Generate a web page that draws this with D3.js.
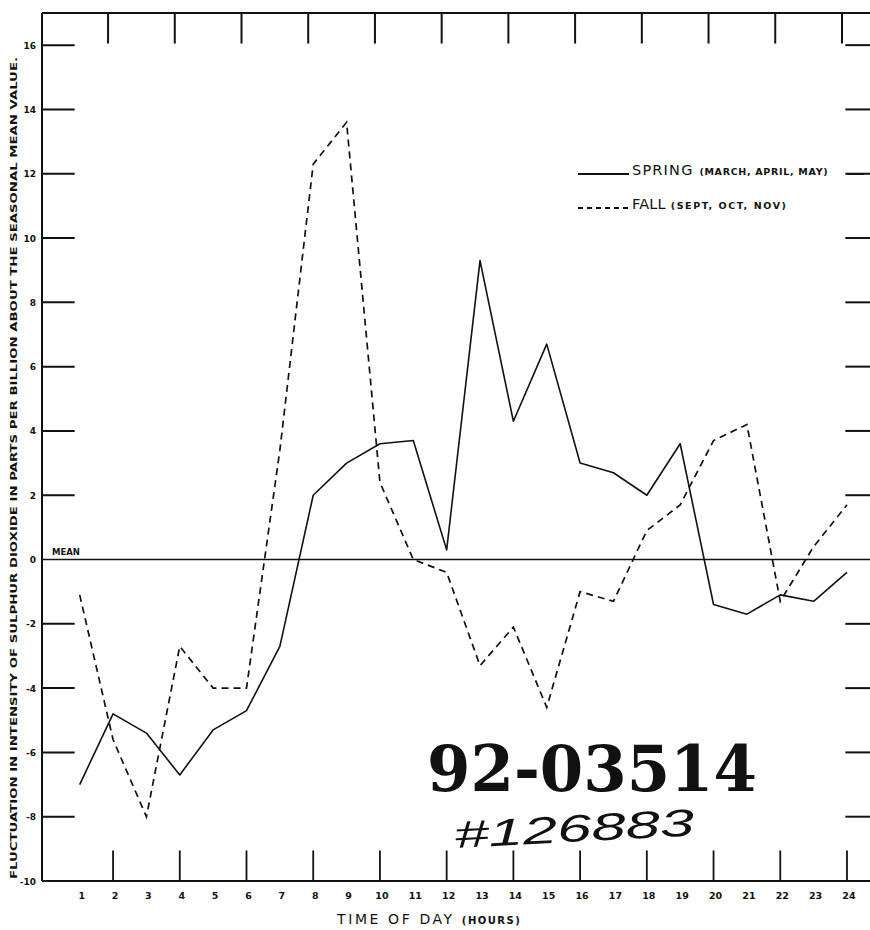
<!DOCTYPE html>
<meta charset="utf-8">
<style>
  body { margin: 0; background: #fff; }
  text { fill: #111; }
</style>
<body>
<script src="https://cdn.jsdelivr.net/npm/d3@7"></script>
<script>

// hours of the day and the two seasonal curves (ppb about the mean)
var hours = [1, 2, 3, 4, 5, 6, 7, 8, 9, 10, 11, 12,
             13, 14, 15, 16, 17, 18, 19, 20, 21, 22, 23, 24];
var spring = [-7.0, -4.8, -5.4, -6.7, -5.3, -4.7, -2.7, 2.0, 3.0, 3.6, 3.7, 0.3,
              9.3, 4.3, 6.7, 3.0, 2.7, 2.0, 3.6, -1.4, -1.7, -1.1, -1.3, -0.4];
var fall = [-1.1, -5.6, -8.0, -2.7, -4.0, -4.0, 3.4, 12.3, 13.6, 2.4, 0.0, -0.4,
            -3.3, -2.1, -4.6, -1.0, -1.3, 0.9, 1.7, 3.7, 4.2, -1.3, 0.4, 1.7];

var tickHours = [2, 4, 6, 8, 10, 12, 14, 16, 18, 20, 22, 24];
var yTicks = [16, 14, 12, 10, 8, 6, 4, 2, 0, -2, -4, -6, -8, -10];
var yMarks = [16, 14, 12, 10, 8, 6, 4, 2, -2, -4, -6, -8];

var width = 870, height = 930;
var sans = "'DejaVu Sans', sans-serif";

var x = d3.scaleLinear().domain([-0.13, 24.75]).range([42, 872]);
var y = d3.scaleLinear().domain([-10, 17]).range([881, 13]);

var svg = d3.select("body").append("svg")
            .attr("width", width)
            .attr("height", height)
            .style("font-family", sans);

//*************** frame
var frame = svg.append("g").attr("stroke", "#111").attr("fill", "none");

frame.append("line")
  .attr("x1", x(-0.13)).attr("x2", x(-0.13))
  .attr("y1", y(-10)).attr("y2", y(17))
  .attr("stroke-width", 2);
frame.append("line")
  .attr("x1", x(-0.13)).attr("x2", x(24.75))
  .attr("y1", y(17)).attr("y2", y(17))
  .attr("stroke-width", 2.2);
frame.append("line")
  .attr("x1", x(-0.13)).attr("x2", x(24.75))
  .attr("y1", y(-10)).attr("y2", y(-10))
  .attr("stroke-width", 2);

// mean line
frame.append("line")
  .attr("x1", x(-0.13)).attr("x2", x(24.75))
  .attr("y1", y(0)).attr("y2", y(0))
  .attr("stroke-width", 1.6);

//*************** ticks
frame.selectAll("line.left").data(yMarks).enter()
  .append("line").attr("class", "left")
  .attr("x1", x(-0.13)).attr("x2", x(0.85))
  .attr("y1", function(d){return y(d);}).attr("y2", function(d){return y(d);})
  .attr("stroke-width", 2);

frame.selectAll("line.right").data(yMarks).enter()
  .append("line").attr("class", "right")
  .attr("x1", x(23.95)).attr("x2", x(24.75))
  .attr("y1", function(d){return y(d);}).attr("y2", function(d){return y(d);})
  .attr("stroke-width", 2);

frame.selectAll("line.bottom").data(tickHours).enter()
  .append("line").attr("class", "bottom")
  .attr("x1", function(d){return x(d);}).attr("x2", function(d){return x(d);})
  .attr("y1", y(-10)).attr("y2", y(-9.05))
  .attr("stroke-width", 1.8);

frame.selectAll("line.top").data(tickHours).enter()
  .append("line").attr("class", "top")
  .attr("x1", function(d){return x(d) - 5;}).attr("x2", function(d){return x(d) - 5;})
  .attr("y1", y(17)).attr("y2", y(16.05))
  .attr("stroke-width", 2);

//*************** tick labels
svg.selectAll("text.ylab").data(yTicks).enter()
  .append("text").attr("class", "ylab")
  .attr("x", 36)
  .attr("y", function(d){return y(d) + 3.5;})
  .attr("text-anchor", "end")
  .attr("font-size", 9)
  .attr("font-weight", "bold")
  .text(function(d){return d;});

svg.selectAll("text.xlab").data(hours).enter()
  .append("text").attr("class", "xlab")
  .attr("x", function(d){return x(d) + 2;})
  .attr("y", 899)
  .attr("text-anchor", "middle")
  .attr("font-size", 9.5)
  .attr("font-weight", "bold")
  .text(function(d){return d;});

svg.append("text")
  .attr("x", 52).attr("y", y(0) - 5)
  .attr("font-size", 8.5)
  .attr("font-weight", "bold")
  .text("MEAN");

//*************** axis titles
svg.append("text")
  .attr("transform", "translate(17," + 468 + ") rotate(-90)")
  .attr("text-anchor", "middle")
  .attr("font-size", 8.5)
  .attr("font-weight", "bold")
  .attr("textLength", 822)
  .attr("lengthAdjust", "spacingAndGlyphs")
  .text("FLUCTUATION IN INTENSITY OF SULPHUR DIOXIDE IN PARTS PER BILLION ABOUT THE SEASONAL MEAN VALUE.");

var xt = svg.append("text")
  .attr("x", 337).attr("y", 924)
  .attr("font-size", 14)
  .attr("letter-spacing", 2.6);
xt.append("tspan").text("TIME OF DAY ");
xt.append("tspan").attr("font-size", 10).attr("font-weight", "bold")
  .attr("letter-spacing", 1.5).text("(HOURS)");

//*************** curves
var line = d3.line()
  .x(function(d, i){return x(hours[i]);})
  .y(function(d){return y(d);});

svg.append("path")
  .datum(spring)
  .attr("d", line)
  .attr("fill", "none")
  .attr("stroke", "#111")
  .attr("stroke-width", 1.6)
  .attr("stroke-linejoin", "round");

svg.append("path")
  .datum(fall)
  .attr("d", line)
  .attr("fill", "none")
  .attr("stroke", "#111")
  .attr("stroke-width", 1.7)
  .attr("stroke-dasharray", "7,5");

//*************** legend
var lg = svg.append("g");
lg.append("line")
  .attr("x1", 578).attr("x2", 629).attr("y1", 174).attr("y2", 174)
  .attr("stroke", "#111").attr("stroke-width", 1.8);
lg.append("line")
  .attr("x1", 847).attr("x2", 864).attr("y1", 174).attr("y2", 174)
  .attr("stroke", "#111").attr("stroke-width", 1.8);
var s1 = lg.append("text").attr("x", 632).attr("y", 175).attr("font-size", 14.5).attr("letter-spacing", 1.2);
s1.append("tspan").text("SPRING ");
s1.append("tspan").attr("font-size", 9.5).attr("font-weight", "bold").attr("letter-spacing", 0.7)
  .text("(MARCH, APRIL, MAY)");

lg.append("line")
  .attr("x1", 578).attr("x2", 630).attr("y1", 208).attr("y2", 208)
  .attr("stroke", "#111").attr("stroke-width", 1.8).attr("stroke-dasharray", "5,4");
var s2 = lg.append("text").attr("x", 632).attr("y", 209).attr("font-size", 14.5).attr("letter-spacing", 0.2);
s2.append("tspan").text("FALL ");
s2.append("tspan").attr("font-size", 9.5).attr("font-weight", "bold").attr("letter-spacing", 1.6)
  .text("(SEPT, OCT, NOV)");

//*************** stamp
svg.append("text")
  .attr("x", 427).attr("y", 791)
  .style("font-family", "'DejaVu Serif', serif")
  .attr("font-size", 64)
  .attr("font-weight", "bold")
  .attr("textLength", 330)
  .attr("lengthAdjust", "spacingAndGlyphs")
  .text("92-03514");

svg.append("text")
  .attr("x", 455).attr("y", 848)
  .style("font-family", "'Liberation Sans', sans-serif")
  .attr("font-size", 38)
  .attr("font-style", "italic")
  .attr("transform", "rotate(-3, 455, 848)")
  .attr("textLength", 240)
  .attr("lengthAdjust", "spacingAndGlyphs")
  .text("#126883");

</script>
</body>
